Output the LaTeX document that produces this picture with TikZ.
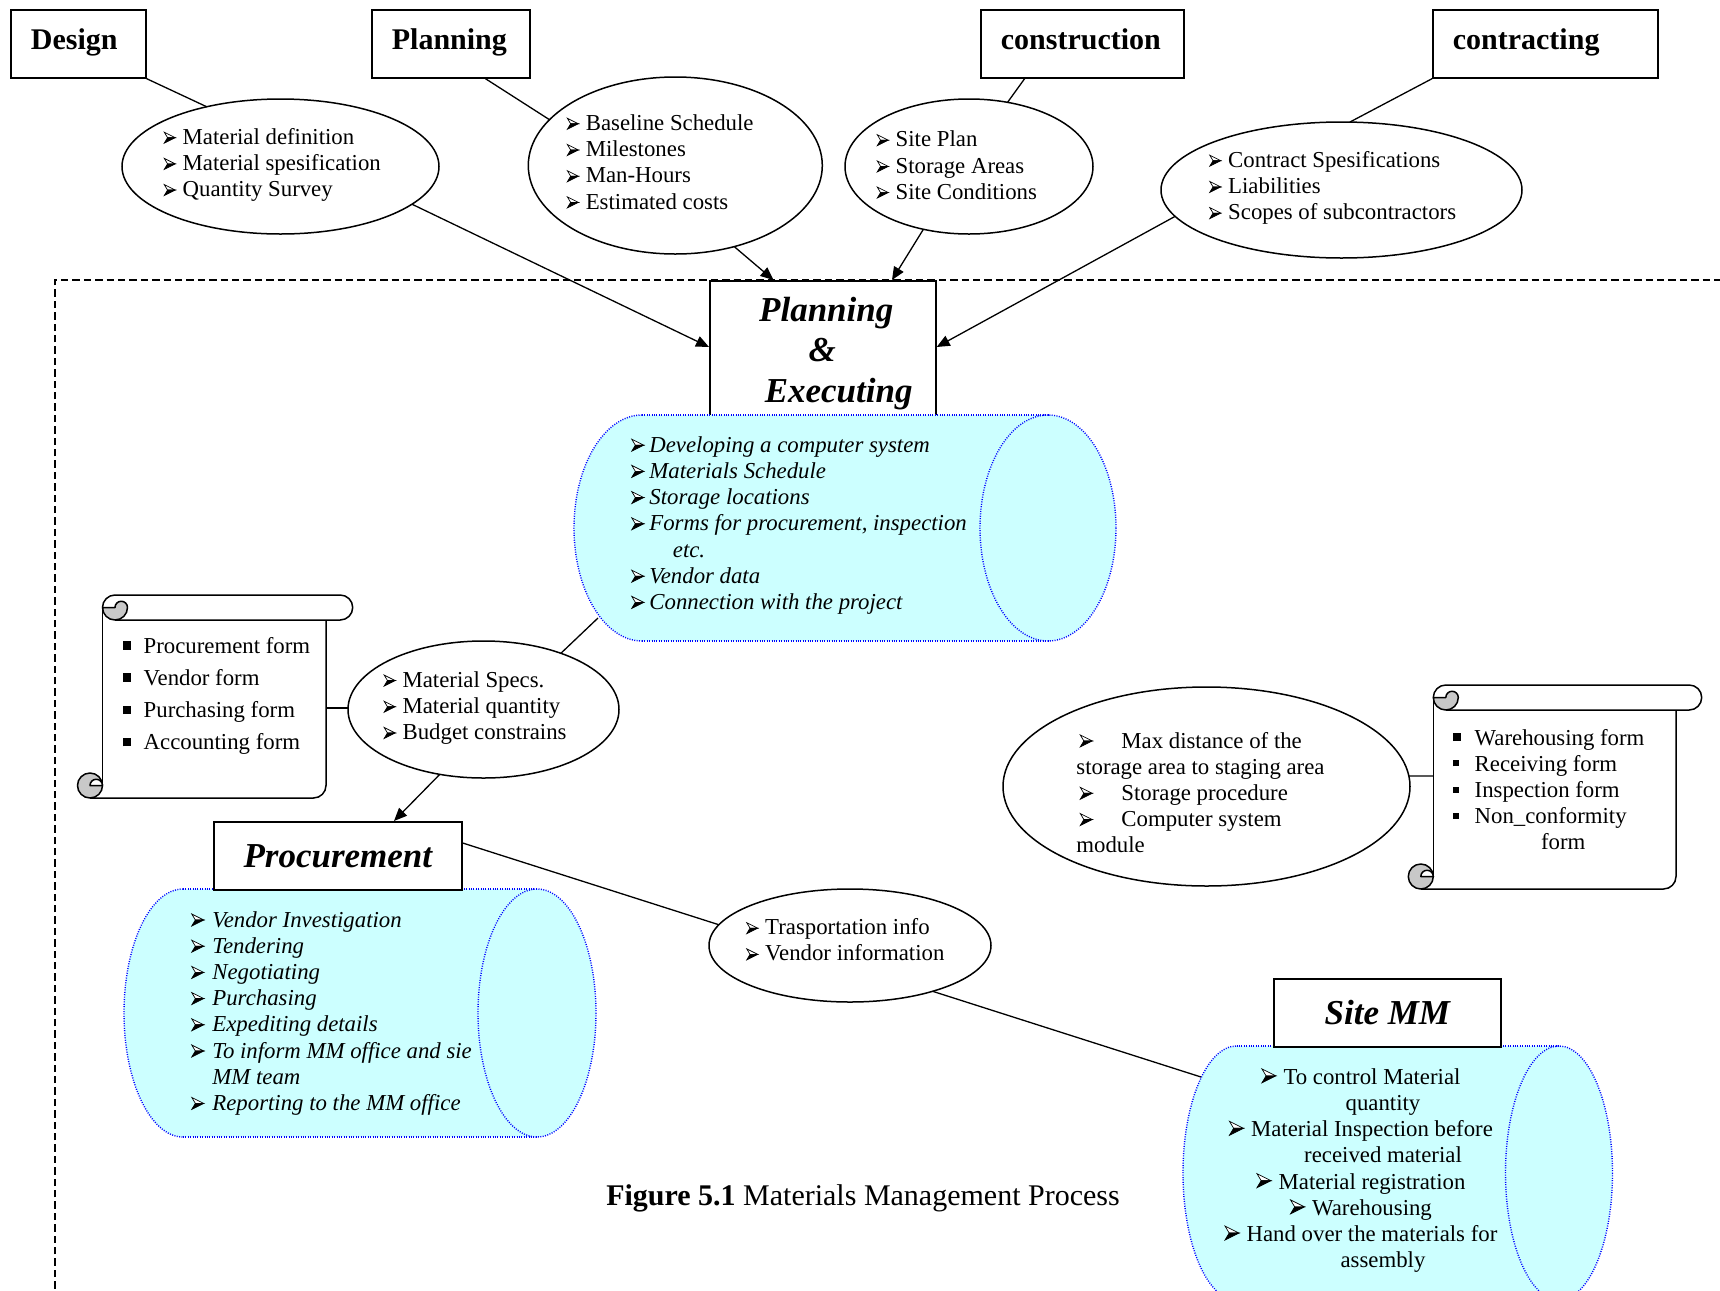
\documentclass[tikz,border=0pt]{standalone}
\usepackage{fontspec}
\setmainfont{Liberation Serif}
\usetikzlibrary{arrows.meta,shapes.geometric}

\definecolor{canfill}{HTML}{CCFFFF}
\definecolor{canline}{HTML}{0000FF}
\definecolor{curlgray}{HTML}{C8C8C8}

% list marks: a lit arrowhead and a square
\newcommand\arrowglyph[1]{\tikz[x=#1,y=#1,baseline=0pt,line width=0.35pt,line join=miter]{%
  \filldraw[fill=white,draw=black] (0,1.1)--(1,0.6)--(0.3,0.6)--cycle;
  \filldraw[fill=black,draw=black] (0,0.1)--(1,0.6)--(0.3,0.6)--cycle;}}
\newcommand\arrowmark[2]{\makebox[#1][l]{\arrowglyph{#2}}}
\newcommand\bul{\arrowmark{9.4pt}{5.5pt}}
\newcommand\bulc{\arrowmark{9pt}{6pt}}
\newcommand\bulp{\arrowmark{10.5pt}{6pt}}
\newcommand\bulw{\arrowmark{20.75pt}{6pt}}
\newcommand\buls{\arrowmark{11pt}{7pt}}
\newcommand\squaremark[3]{\makebox[#1][l]{\raisebox{#3}{\rule{#2}{#2}}}}

% horizontal can: left x, right x, top y, bottom y, end x-radius
\newcommand\drawcan[5]{%
  \fill[canfill] ({#1+#5},#3) rectangle ({#2-#5},#4);
  \fill[canfill] ({#1+#5},{(#3+#4)/2}) ellipse[x radius=#5, y radius={(#4-#3)/2}];
  \fill[canfill] ({#2-#5},{(#3+#4)/2}) ellipse[x radius=#5, y radius={(#4-#3)/2}];
  \begin{scope}
    \clip ({#1-5},{#3-5}) rectangle ({#1+#5},{#4+5});
    \draw[canborder] ({#1+#5},{(#3+#4)/2}) ellipse[x radius=#5, y radius={(#4-#3)/2}];
  \end{scope}
  \draw[canborder] ({#1+#5},#3) -- ({#2-#5},#3);
  \draw[canborder] ({#1+#5},#4) -- ({#2-#5},#4);
  \draw[canborder] ({#2-#5},{(#3+#4)/2}) ellipse[x radius=#5, y radius={(#4-#3)/2}];
}

% vertical scroll: curl left x, top y, roll end x, sheet right x, bottom y
\newcommand\drawscroll[5]{%
  \draw[scrollline] ({#1+25},{#2+12.5}) arc[start angle=180,end angle=270,radius=12.5]
      -- ({#3-12.5},#2) arc[start angle=-90,end angle=90,radius=12.5]
      -- ({#1+37.5},{#2+25});
  \filldraw[scrollline,fill=curlgray] ({#1+25},{#2+12.5}) arc[start angle=180,end angle=0,radius=12.5]
      arc[start angle=0,end angle=-180,radius=6.25] -- cycle;
  \draw[scrollline] ({#1+25},{#2+12.5}) -- ({#1+25},{#5-12.5});
  \draw[scrollline] (#4,{#2+25}) -- (#4,{#5-12.5}) arc[start angle=0,end angle=90,radius=12.5]
      -- ({#1+12.5},#5);
  \filldraw[scrollline,fill=curlgray] ({#1+12.5},{#5-12.5}) circle[radius=12.5];
  \filldraw[scrollline,fill=white] ({#1+12.5},{#5-12.5}) arc[start angle=180,end angle=360,radius=6.25] -- cycle;
}

\tikzset{
  labelbox/.style={draw, line width=0.85pt, fill=white, inner ysep=0pt, inner xsep=10pt,
    anchor=north west, minimum height=34pt, align=left, text height=10pt, text depth=4.5pt,
    font=\fontsize{15}{18}\selectfont\bfseries},
  stagebox/.style={draw, line width=0.85pt, fill=white, inner sep=0pt, anchor=north west,
    align=center, font=\fontsize{17.5}{20.3}\selectfont\bfseries\itshape},
  bubble/.style={draw, ellipse, line width=0.75pt, fill=white, inner sep=0pt, outer sep=0pt},
  itemtext/.style={inner sep=0pt, anchor=west, align=left,
    font=\fontsize{11.4}{13.1}\selectfont},
  link/.style={line width=0.65pt},
  feed/.style={link, -{Triangle[length=6.5pt,width=5.5pt]}},
  canborder/.style={draw=canline, line width=0.7pt, dash pattern=on 0.5pt off 0.7pt},
  scrollline/.style={line width=0.75pt, line join=round},
  frame/.style={line width=0.8pt, dash pattern=on 3.7pt off 2pt},
  caption/.style={inner sep=0pt, font=\fontsize{15}{17}\selectfont},
}

\begin{document}
\begin{tikzpicture}[x=0.5pt, y=-0.5pt]
\useasboundingbox (0,0) rectangle (1720,1291);

% dashed boundary of the materials management area
\draw[frame] (55,1300) -- (55,280) -- (1730,280);

% input departments
\node[labelbox, text width=47.5pt] (design) at (10,9) {Design};
\node[labelbox, text width=59pt] (planning) at (371,9) {Planning};
\node[labelbox, text width=81.5pt] (construction) at (980,9) {construction};
\node[labelbox, text width=92.5pt] (contracting) at (1432,9) {contracting};

% their contributions
\node[bubble, minimum width=158.5pt, minimum height=67.5pt] (e1) at (280.5,166.5) {};
\node[itemtext] (e1t) at (163.5,164.9)
  {\bul Material definition\\\bul Material spesification\\\bul Quantity Survey};
\node[bubble, minimum width=147pt, minimum height=88.5pt] (e2) at (675.3,165.5) {};
\node[itemtext] (e2t) at (566.6,161.9)
  {\bul Baseline Schedule\\\bul Milestones\\\bul Man-Hours\\\bul Estimated costs};
\node[bubble, minimum width=124pt, minimum height=67.5pt] (e3) at (969,166.5) {};
\node[itemtext] (e3t) at (876.5,165.2)
  {\bul Site Plan\\\bul Storage Areas\\\bul Site Conditions};
\node[bubble, minimum width=180.5pt, minimum height=68pt] (e4) at (1341.5,190) {};
\node[itemtext] (e4t) at (1209,187.9)
  {\bul Contract Spesifications\\\bul Liabilities\\\bul Scopes of subcontractors};

\draw[link] (design.south east) -- (e1.141);
\draw[link] ([xshift=57.25pt]planning.south west) -- (e2.160.4);
\draw[link] ([xshift=22.3pt]construction.south west) -- (e3.59.6);
\draw[link] (contracting.south west) -- (e4.83);

% planning & executing
\node[stagebox, minimum width=113pt, minimum height=72.5pt, align=left] (pe) at (709,280)
  {\hspace*{13pt}Planning\\\hspace*{37.75pt}\&\\\hspace*{15.8pt}Executing};
\drawcan{574}{1116}{415}{641}{68}
\node[itemtext, font=\fontsize{11.4}{13.1}\selectfont\itshape] (pecan) at (631,525.5)
  {\bulc Developing a computer system\\\bulc Materials Schedule\\\bulc Storage locations\\
   \bulc Forms for procurement, inspection\\\hspace*{20.75pt}etc.\\\bulc Vendor data\\
   \bulc Connection with the project};
\coordinate (pecanSW) at (598,618);

\draw[feed] (e1.-16) -- ([yshift=-33.5pt]pe.north west);
\draw[feed] (e2.-54) -- ([xshift=32.25pt]pe.north west);
\draw[feed] (e3.234) -- ([xshift=91.5pt]pe.north west);
\draw[feed] (e4.189.1) -- ([yshift=-33.5pt]pe.north east);

% procurement inputs
\drawscroll{77.5}{595}{352.7}{326}{798}
\node[itemtext, font=\fontsize{11.4}{16.1}\selectfont] (formsA) at (122.3,696)
  {\squaremark{10.5pt}{4.2pt}{1.8pt}Procurement form\\\squaremark{10.5pt}{4.2pt}{1.8pt}Vendor form\\
   \squaremark{10.5pt}{4.2pt}{1.8pt}Purchasing form\\\squaremark{10.5pt}{4.2pt}{1.8pt}Accounting form};
\coordinate (scrollAedge) at (326,708);

\node[bubble, minimum width=135.5pt, minimum height=68.5pt] (e5) at (483.5,709.5) {};
\node[itemtext] (e5t) at (383.4,707.9)
  {\bul Material Specs.\\\bul Material quantity\\\bul Budget constrains};
\draw[link] (pecanSW) -- (e5.36);
\draw[link] (scrollAedge) -- (scrollAedge -| e5.west);

% procurement
\drawcan{124}{596}{889}{1137}{59}
\node[stagebox, minimum width=124pt, minimum height=34pt] (proc) at (213,821) {Procurement};
\node[itemtext, font=\fontsize{11.4}{13.1}\selectfont\itshape] (proccan) at (191,1013.4)
  {\bulp Vendor Investigation\\\bulp Tendering\\\bulp Negotiating\\\bulp Purchasing\\
   \bulp Expediting details\\\bulp To inform MM office and sie\\\hspace*{10.5pt}MM team\\
   \bulp Reporting to the MM office};
\draw[feed] (e5.236) -- ([xshift=90.5pt]proc.north west);

\node[bubble, minimum width=141pt, minimum height=56.5pt] (e6) at (850,945.5) {};
\node[itemtext] (e6t) at (746,940) {\bul Trasportation info\\\bul Vendor information};
\draw[link] ([yshift=-11pt]proc.north east) -- (e6.171);

% site materials management
\drawcan{1183}{1612.5}{1046}{1300}{53.5}
\node[stagebox, minimum width=113.5pt, minimum height=34pt] (sitemm) at (1273,978) {Site MM};
\node[itemtext, anchor=center, align=center] (sitecan) at (1361,1170.5)
  {\buls To control Material\\\hspace*{22pt}quantity\\\buls Material Inspection before\\
   \hspace*{22pt}received material\\\buls Material registration\\\buls Warehousing\\
   \buls Hand over the materials for\\\hspace*{22pt}assembly};
\coordinate (sitecanW) at (1201,1077);
\draw[link] (e6.-29.4) -- (sitecanW);

% storage
\node[bubble, minimum width=203.5pt, minimum height=99.5pt] (e7) at (1206.5,786.5) {};
\node[itemtext] (e7t) at (1076,792.6)
  {\hspace*{1.75pt}\bulw Max distance of the\\storage area to staging area\\
   \hspace*{1.75pt}\bulw Storage procedure\\\hspace*{1.75pt}\bulw Computer system\\module};
\drawscroll{1408.3}{685}{1701.7}{1676}{889}
\node[itemtext] (formsB) at (1453,789.5)
  {\squaremark{10.65pt}{4pt}{1.9pt}Warehousing form\\\squaremark{10.65pt}{3pt}{2.4pt}Receiving form\\
   \squaremark{10.65pt}{3pt}{2.4pt}Inspection form\\\squaremark{10.65pt}{3pt}{2.4pt}Non\_conformity\\
   \hspace*{43.85pt}form};
\coordinate (scrollBedge) at (1433,776);
\draw[link] (e7.3) -- (scrollBedge);

% caption
\node[caption] (cap) at (863,1198) {\textbf{Figure 5.1} Materials Management Process};
\end{tikzpicture}
\end{document}
